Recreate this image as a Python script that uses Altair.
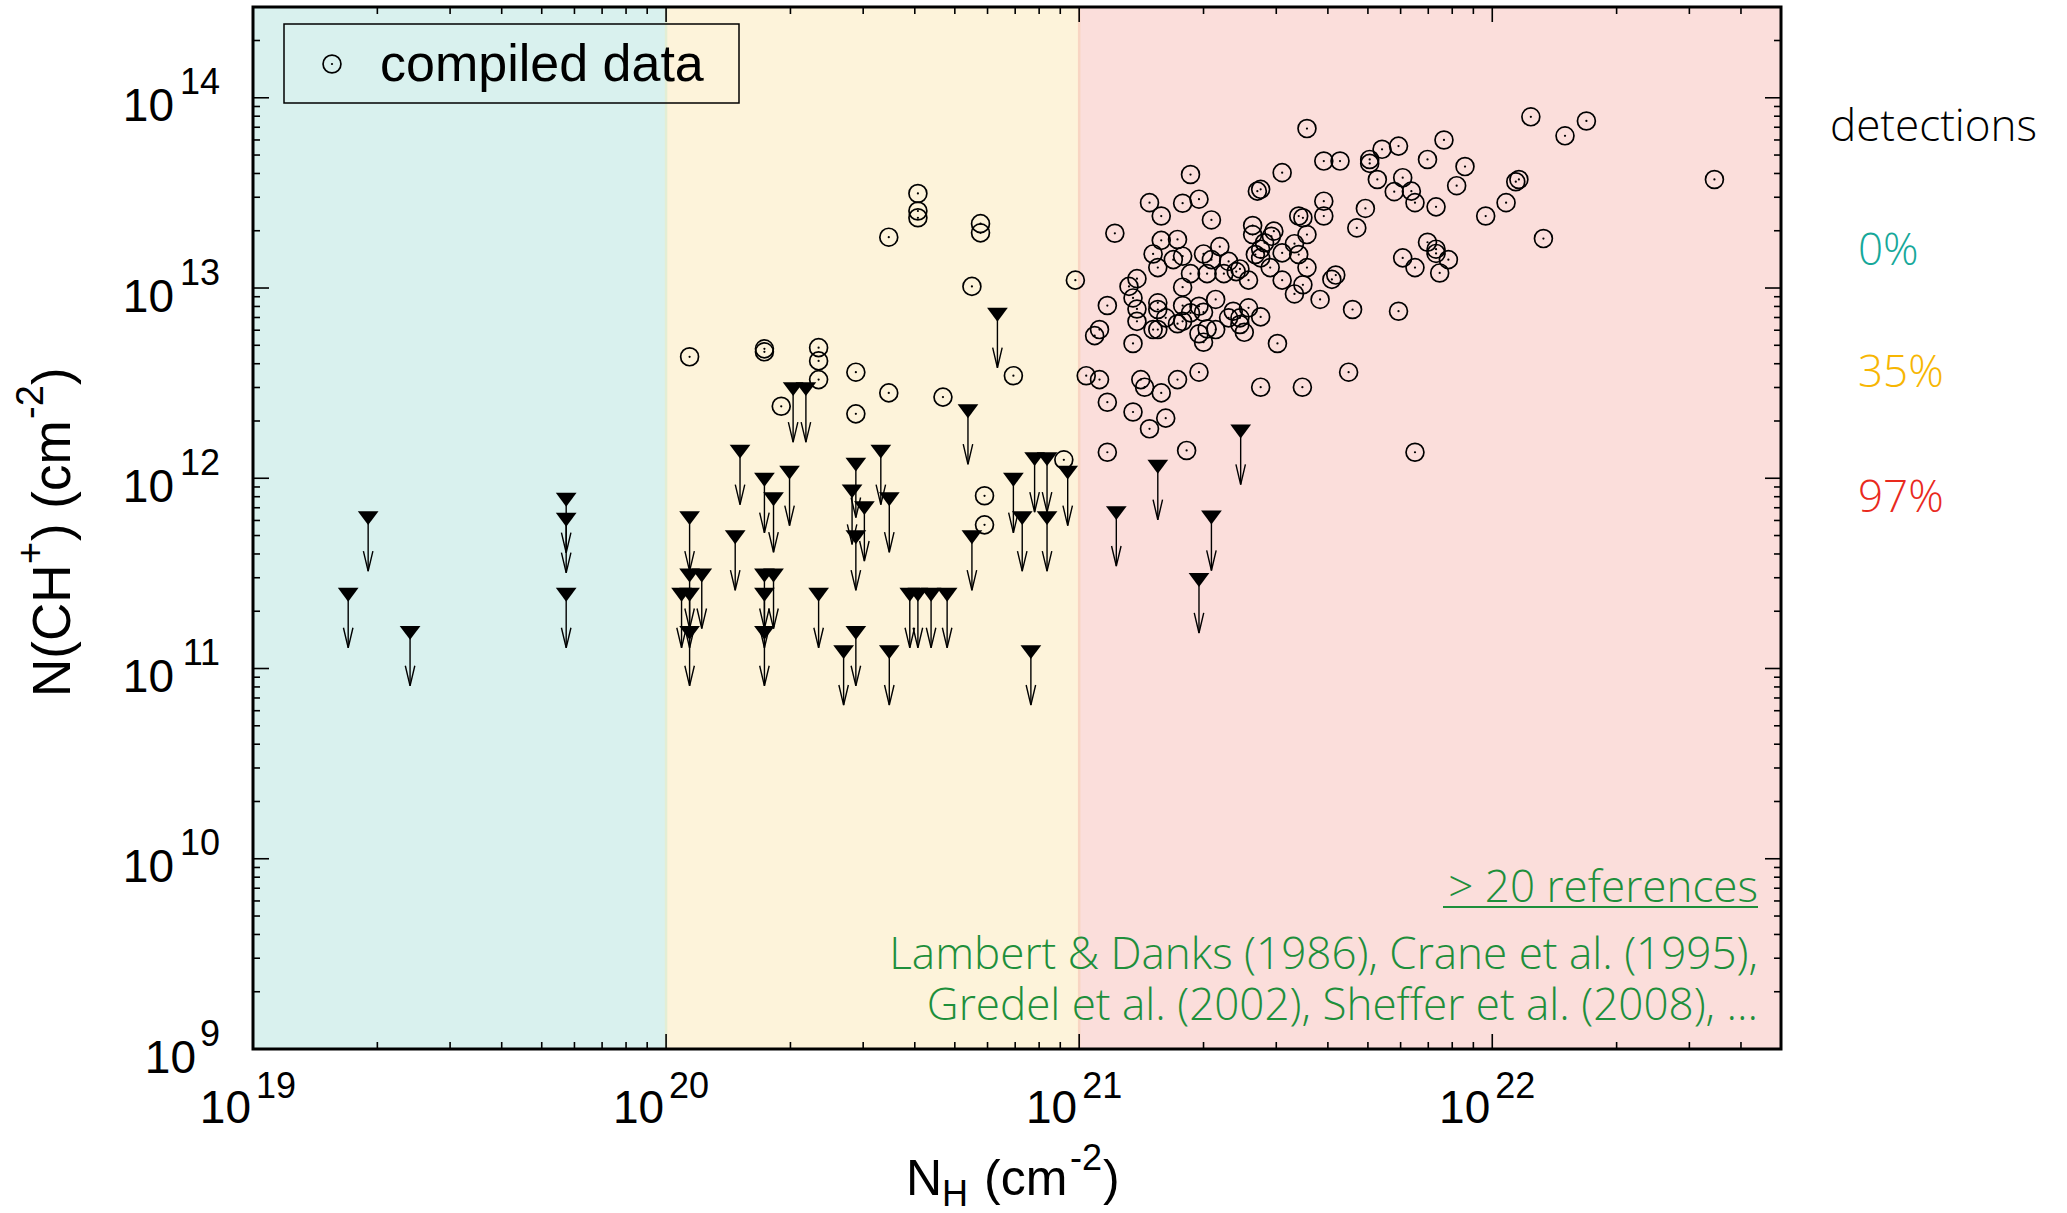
import altair as alt
import pandas as pd

W, H = 1528, 1042

# ---------------- data ----------------
# detections: N_H (cm^-2) and N(CH+) (cm^-2)
det_nh = [
    1.14e20, 1.73e20, 1.73e20, 2.34e20, 2.34e20, 2.34e20, 1.90e20, 2.88e20, 2.88e20, 3.46e20,
    4.07e20, 4.07e20, 4.07e20, 5.77e20, 5.77e20, 5.50e20, 9.79e20, 6.93e20, 3.46e20, 4.68e20,
    9.18e20, 5.90e20, 5.90e20,
    1.22e21, 1.48e21, 1.58e21, 1.86e21, 1.78e21, 1.95e21, 2.09e21, 1.58e21, 1.73e21, 1.51e21,
    1.78e21, 1.69e21, 1.55e21, 1.38e21, 1.32e21, 1.35e21, 1.38e21, 1.38e21, 1.17e21, 1.12e21,
    1.09e21, 1.35e21,
    1.86e21, 2.00e21, 2.09e21, 2.19e21, 2.04e21, 2.30e21, 2.24e21, 2.40e21, 2.45e21, 2.57e21,
    1.78e21, 1.55e21, 1.55e21, 1.62e21, 1.51e21, 1.55e21, 1.78e21, 1.73e21, 1.78e21, 1.86e21,
    1.95e21, 2.00e21, 2.14e21, 1.95e21, 2.04e21, 2.14e21, 2.00e21, 2.30e21, 2.36e21, 2.45e21,
    2.57e21, 2.45e21, 2.51e21, 2.75e21, 3.02e21,
    2.63e21, 2.63e21, 2.70e21, 2.75e21, 3.10e21, 2.96e21, 2.92e21, 2.81e21, 2.75e21, 2.67e21,
    2.75e21, 2.90e21, 3.10e21, 3.10e21, 3.32e21, 3.40e21, 3.56e21, 3.48e21, 3.32e21, 3.83e21,
    3.56e21, 3.40e21, 3.48e21, 3.91e21, 3.91e21, 3.91e21, 4.28e21, 3.56e21,
    4.09e21, 4.18e21, 4.59e21, 4.70e21, 4.93e21, 5.05e21, 5.05e21, 5.27e21, 5.41e21, 5.93e21,
    6.07e21, 5.79e21, 6.37e21, 6.50e21, 5.93e21, 6.07e21, 6.50e21, 6.97e21, 7.31e21, 7.31e21,
    7.83e21, 7.46e21, 7.31e21, 6.97e21, 7.64e21, 8.59e21, 8.20e21, 9.64e21, 1.08e22, 1.14e22,
    1.16e22, 1.24e22, 1.50e22, 1.69e22, 1.33e22,
    4.49e21, 3.47e21, 2.75e21, 1.95e21, 1.73e21, 1.41e21, 1.44e21, 1.58e21, 1.04e21, 1.12e21,
    1.17e21, 1.35e21, 1.62e21, 1.48e21, 1.17e21, 1.82e21, 6.50e21, 3.45e22,
]
det_nch = [
    4.35e12, 4.79e12, 4.62e12, 4.86e12, 4.14e12, 3.30e12, 2.39e12, 3.61e12, 2.18e12, 1.85e13,
    3.14e13, 2.54e13, 2.34e13, 2.18e13, 1.95e13, 1.02e13, 1.10e13, 3.46e12, 2.81e12, 2.67e12,
    1.25e12, 8.09e11, 5.69e11,
    1.94e13, 2.81e13, 2.39e13, 3.95e13, 2.79e13, 2.93e13, 2.28e13, 1.78e13, 1.80e13, 1.51e13,
    1.47e13, 1.41e13, 1.28e13, 1.12e13, 1.02e13, 8.87e12, 7.76e12, 6.68e12, 8.09e12, 6.05e12,
    5.62e12, 5.11e12,
    1.19e13, 1.51e13, 1.41e13, 1.65e13, 1.19e13, 1.38e13, 1.19e13, 1.22e13, 1.26e13, 1.10e13,
    1.01e13, 8.36e12, 7.71e12, 6.97e12, 6.05e12, 6.05e12, 8.09e12, 6.49e12, 6.68e12, 7.40e12,
    8.02e12, 7.46e12, 8.71e12, 5.75e12, 6.10e12, 6.05e12, 5.19e12, 6.97e12, 7.55e12, 6.97e12,
    7.87e12, 6.43e12, 5.85e12, 7.05e12, 5.11e12,
    2.13e13, 1.91e13, 3.23e13, 3.30e13, 4.04e13, 1.99e13, 1.87e13, 1.73e13, 1.60e13, 1.50e13,
    1.44e13, 1.28e13, 1.53e13, 1.10e13, 1.71e13, 1.50e13, 1.28e13, 1.04e13, 9.31e12, 8.71e12,
    1.91e13, 2.39e13, 2.34e13, 2.86e13, 2.39e13, 4.65e13, 4.65e13, 6.89e13,
    1.11e13, 1.17e13, 7.71e12, 2.07e13, 2.62e13, 4.74e13, 4.52e13, 3.72e13, 5.36e13, 5.57e13,
    3.80e13, 3.21e13, 3.23e13, 2.81e13, 7.55e12, 1.44e13, 1.28e13, 1.74e13, 1.60e13, 1.52e13,
    1.41e13, 1.20e13, 2.67e13, 4.74e13, 6.00e13, 4.35e13, 3.45e13, 2.39e13, 2.81e13, 3.62e13,
    3.72e13, 7.94e13, 6.31e13, 7.55e13, 1.82e13,
    3.61e12, 3.01e12, 3.01e12, 3.61e12, 3.30e12, 3.30e12, 3.01e12, 2.81e12, 3.46e12, 3.30e12,
    2.51e12, 2.23e12, 2.07e12, 1.82e12, 1.37e12, 1.40e12, 1.37e12, 3.72e13,
]

# upper limits
lim_nh = [
    1.70e19, 1.90e19, 2.40e19, 5.73e19, 5.73e19, 5.73e19,
    1.14e20, 1.51e20, 1.73e20, 1.82e20, 1.99e20, 1.14e20, 1.22e20, 1.09e20, 1.14e20, 1.14e20,
    1.47e20, 1.73e20, 1.82e20, 1.73e20, 1.73e20, 2.34e20, 2.88e20, 2.82e20, 3.31e20, 3.02e20,
    3.47e20, 2.88e20, 2.88e20, 2.69e20, 3.47e20, 3.89e20, 4.07e20, 4.38e20, 4.79e20, 5.38e20,
    5.50e20, 6.93e20, 7.80e20, 8.36e20, 7.28e20, 8.36e20, 9.38e20, 7.64e20, 2.03e20, 2.18e20,
    6.34e20,
    2.46e21, 1.55e21, 1.23e21, 2.09e21, 1.95e21,
]
lim_nch = [
    2.44e11, 6.17e11, 1.54e11, 7.71e11, 6.05e11, 2.44e11,
    6.17e11, 1.38e12, 9.82e11, 7.76e11, 1.07e12, 3.08e11, 3.08e11, 2.44e11, 2.44e11, 1.54e11,
    4.90e11, 3.08e11, 3.08e11, 2.44e11, 1.54e11, 2.44e11, 1.18e12, 8.53e11, 1.38e12, 6.97e11,
    7.76e11, 4.90e11, 1.54e11, 1.22e11, 1.22e11, 2.44e11, 2.44e11, 2.44e11, 2.44e11, 2.25e12,
    4.90e11, 9.82e11, 1.26e12, 1.26e12, 6.17e11, 6.17e11, 1.07e12, 1.22e11, 2.94e12, 2.94e12,
    7.24e12,
    1.76e12, 1.15e12, 6.56e11, 6.22e11, 2.92e11,
]

band_lo = [1e19, 1e20, 1e21]
band_hi = [1e20, 1e21, 5e22]
band_color = ["#d9f1ee", "#fdf3da", "#fbdedb"]
band_edge = [1e20, 1e21]
band_edge_color = ["#e3eed4", "#f8d5c3"]

x_exp = [19, 20, 21, 22]
y_exp = [9, 10, 11, 12, 13, 14]
X_MIN, X_MAX = 1e19, 5e22
Y_MIN, Y_MAX = 1e9, 3e14

pct_text = ["0%", "35%", "97%"]
pct_color = ["#16a89a", "#f7b602", "#e92a1d"]
ref_lines = ["> 20 references",
             "Lambert & Danks (1986), Crane et al. (1995),",
             "Gredel et al. (2002), Sheffer et al. (2008), \u2026"]
GREEN = "#1e8f3b"

# ---------------- chart ----------------
F = "Liberation Sans"
FL = "Open Sans"

xs = alt.Scale(type="log", domain=[X_MIN, X_MAX], nice=False)
ys = alt.Scale(type="log", domain=[Y_MIN, Y_MAX], nice=False)


def X(f):
    return alt.X(f, type="quantitative", scale=xs, axis=None)


def Y(f):
    return alt.Y(f, type="quantitative", scale=ys, axis=None)


det = pd.DataFrame({"NH": det_nh, "NCH": det_nch})
lim = pd.DataFrame({"NH": lim_nh, "NCH": lim_nch})
bands = pd.DataFrame({"lo": band_lo, "hi": band_hi, "c": band_color})
edges = pd.DataFrame({"v": band_edge, "c": band_edge_color})
one = pd.DataFrame({"k": [0]})

x_major = pd.DataFrame({"v": [10.0 ** k for k in x_exp]})
x_minor = pd.DataFrame({"v": [m * 10.0 ** k for k in x_exp for m in range(2, 10) if m * 10.0 ** k < X_MAX]})
y_major = pd.DataFrame({"v": [10.0 ** k for k in y_exp]})
y_minor = pd.DataFrame({"v": [m * 10.0 ** k for k in y_exp for m in range(2, 10) if m * 10.0 ** k < Y_MAX]})
xl = pd.DataFrame({"v": [10.0 ** k for k in x_exp], "e": [str(k) for k in x_exp]})
yl = pd.DataFrame({"v": [10.0 ** k for k in y_exp], "e": [str(k) for k in y_exp]})

CIRC = 320
TRI = 430
ARR = 125

layers = []

layers.append(alt.Chart(bands).mark_rect().encode(
    x=X("lo"), x2="hi:Q", y=alt.value(0), y2=alt.value(H),
    color=alt.Color("c:N", scale=None)))
layers.append(alt.Chart(edges).mark_rule(strokeWidth=2.5).encode(
    x=X("v"), y=alt.value(0), y2=alt.value(H), color=alt.Color("c:N", scale=None)))


def xticks(df, L):
    b = alt.Chart(df).mark_rule(color="black", strokeWidth=1.6).encode(
        x=X("v"), y=alt.value(H), y2=alt.value(H - L))
    t = alt.Chart(df).mark_rule(color="black", strokeWidth=1.6).encode(
        x=X("v"), y=alt.value(0), y2=alt.value(L))
    return [b, t]


def yticks(df, L):
    l = alt.Chart(df).mark_rule(color="black", strokeWidth=1.6).encode(
        y=Y("v"), x=alt.value(0), x2=alt.value(L))
    r = alt.Chart(df).mark_rule(color="black", strokeWidth=1.6).encode(
        y=Y("v"), x=alt.value(W), x2=alt.value(W - L))
    return [l, r]


layers += xticks(x_major, 15) + xticks(x_minor, 7) + yticks(y_major, 16) + yticks(y_minor, 7)

# detections
layers.append(alt.Chart(det).mark_point(shape="circle", filled=False, size=CIRC, color="black",
                                        strokeWidth=1.7, opacity=1).encode(x=X("NH"), y=Y("NCH")))
layers.append(alt.Chart(det).mark_point(shape="circle", filled=True, size=5, color="black",
                                        opacity=1).encode(x=X("NH"), y=Y("NCH")))

# upper limits
limc = alt.Chart(lim).transform_calculate(tip="datum.NCH / 1.9")
layers.append(limc.mark_rule(color="black", strokeWidth=1.4).encode(
    x=X("NH"), y=Y("NCH"), y2="tip:Q"))
layers.append(limc.mark_point(shape="M -0.85 -3.6 L 0 0 L 0.85 -3.6", filled=False, size=ARR,
                              color="black", strokeWidth=1.4, opacity=1).encode(
    x=X("NH"), y=Y("tip")))
layers.append(limc.mark_point(shape="M -1 -0.67 L 1 -0.67 L 0 0.67 Z", filled=True, size=TRI,
                              color="black", opacity=1).encode(x=X("NH"), y=Y("NCH")))

# frame
layers.append(alt.Chart(one).mark_rect(filled=False, color="black", strokeWidth=3).encode(
    x=alt.value(0), x2=alt.value(W), y=alt.value(0), y2=alt.value(H)))

# tick labels
layers.append(alt.Chart(xl).mark_text(align="right", baseline="alphabetic", dx=-2, font=F,
                                      fontSize=46, color="black").encode(
    x=X("v"), y=alt.value(1116), text=alt.value("10")))
layers.append(alt.Chart(xl).mark_text(align="left", baseline="alphabetic", dx=3, font=F,
                                      fontSize=36, color="black").encode(
    x=X("v"), y=alt.value(1091), text="e:N"))
layers.append(alt.Chart(yl).mark_text(align="right", baseline="alphabetic", dy=-3.5, font=F,
                                      fontSize=36, color="black").encode(
    x=alt.value(-33), y=Y("v"), text="e:N"))
layers.append(alt.Chart(yl).transform_filter("length(datum.e) == 2").mark_text(
    align="right", baseline="alphabetic", dy=23.5, font=F, fontSize=46, color="black").encode(
    x=alt.value(-79), y=Y("v"), text=alt.value("10")))
layers.append(alt.Chart(yl).transform_filter("length(datum.e) == 1").mark_text(
    align="right", baseline="alphabetic", dy=23.5, font=F, fontSize=46, color="black").encode(
    x=alt.value(-57), y=Y("v"), text=alt.value("10")))


def txt(s, x, y, size, font=F, color="black", align="left", angle=0, weight=400):
    return alt.Chart(one).mark_text(align=align, baseline="alphabetic", font=font, fontSize=size,
                                    color=color, angle=angle, fontWeight=weight).encode(
        x=alt.value(x), y=alt.value(y), text=alt.value(s))


# axis titles
layers += [
    txt("N", 653, 1188, 50), txt("H", 689, 1199, 36), txt("(cm", 731, 1188, 50),
    txt("-2", 817, 1163, 36), txt(")", 850, 1188, 50),
    txt("N(CH", -183, 690, 53, angle=270), txt("+", -210, 557, 38, angle=270),
    txt(") (cm", -183, 534, 53, angle=270), txt("-2", -210, 412, 38, angle=270),
    txt(")", -183, 378, 53, angle=270),
]

# legend
layers.append(alt.Chart(one).mark_rect(filled=False, color="black", strokeWidth=1.5).encode(
    x=alt.value(31), x2=alt.value(486), y=alt.value(17), y2=alt.value(96)))
layers.append(alt.Chart(one).mark_point(shape="circle", filled=False, size=CIRC, color="black",
                                        strokeWidth=1.7, opacity=1).encode(
    x=alt.value(79), y=alt.value(57)))
layers.append(alt.Chart(one).mark_point(shape="circle", filled=True, size=5, color="black",
                                        opacity=1).encode(x=alt.value(79), y=alt.value(57)))
layers.append(txt("compiled data", 127, 74, 52))

# detections panel
layers.append(txt("detections", 1577, 134, 44, font=FL, weight=300))
for s, c, yy in zip(pct_text, pct_color, [258, 380, 505]):
    layers.append(txt(s, 1605, yy, 44, font=FL, color=c, weight=300))

# references
for s, yy in zip(ref_lines, [895, 962, 1013]):
    layers.append(txt(s, 1505, yy, 44, font=FL, color=GREEN, align="right", weight=300))
layers.append(alt.Chart(one).mark_rule(color=GREEN, strokeWidth=2).encode(
    x=alt.value(1190), x2=alt.value(1505), y=alt.value(900)))

chart = alt.layer(*layers).properties(
    width=W, height=H,
    autosize=alt.AutoSizeParams(type="none"),
    padding={"left": 253, "top": 7, "right": 286, "bottom": 164},
    background="white",
).configure_view(strokeWidth=0)

chart.save("out.html", embed_options={"renderer": "svg", "actions": False})
